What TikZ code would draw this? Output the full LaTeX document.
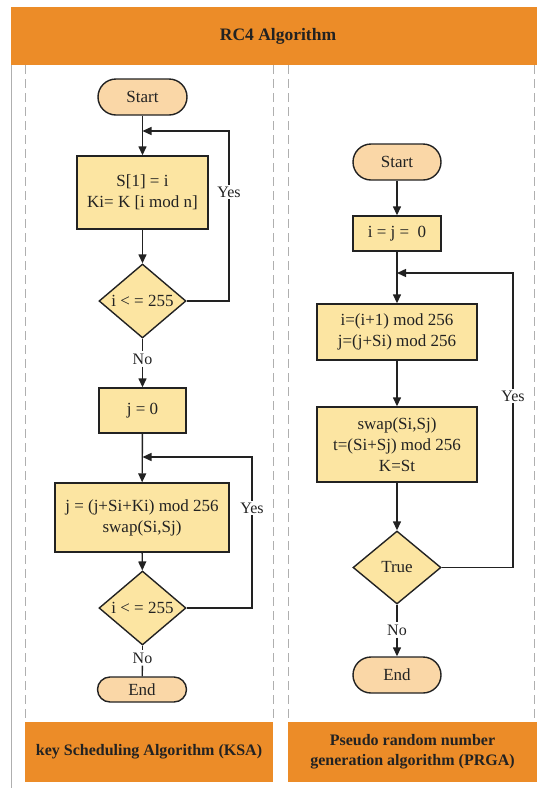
\documentclass[tikz,border=0pt]{standalone}
\usepackage{fontspec}
\setmainfont{Liberation Serif}
\usetikzlibrary{shapes.geometric,arrows.meta}
\definecolor{hdr}{RGB}{236,140,40}
\definecolor{boxf}{RGB}{252,229,162}
\definecolor{termf}{RGB}{250,215,167}
\definecolor{edge}{RGB}{34,34,34}
\definecolor{lanec}{RGB}{175,175,175}
\newcommand\myfont{\fontsize{17}{21}\selectfont}
\newcommand\mylab{\fontsize{16}{19}\selectfont}
\newcommand\mybold{\fontsize{16}{20}\selectfont\bfseries}
\begin{document}
\begin{tikzpicture}[x=1pt,y=-1pt,
  procbox/.style={draw=edge, fill=boxf, line width=1.4pt, inner sep=0pt, align=center, font=\myfont, text=edge},
  term/.style={draw=edge, fill=termf, line width=1.4pt, inner sep=0pt, align=center, font=\myfont, text=edge},
  decbox/.style={diamond, draw=edge, fill=boxf, line width=1.4pt, inner sep=0pt, aspect=1.18, minimum width=87pt, minimum height=74pt, font=\myfont, text=edge},
  lbl/.style={font=\mylab, text=edge, inner sep=2pt},
  ylbl/.style={font=\mylab, text=edge, fill=white, inner sep=2pt},
  conn/.style={line width=1.4pt, draw=edge},
  arr/.style={conn, -{Triangle[length=9pt,width=8pt]}},
  lanel/.style={draw=lanec, line width=1pt, dash pattern=on 9pt off 5pt},
  lanebox/.style={fill=hdr, inner sep=0pt, align=center, font=\mybold, text=edge}
]
\useasboundingbox (0,0) rectangle (537,788);
% frame
\fill[hdr] (11,7) rectangle (537,65);
\node[font=\fontsize{17.5}{21}\selectfont\bfseries, text=edge] (title) at (278,36) {RC4 Algorithm};
\draw[draw=lanec, line width=1pt] (11,65) -- (11,788);
\draw[lanel] (25,65) -- (25,722);
\draw[lanel] (273,65) -- (273,722);
\draw[lanel] (288,65) -- (288,722);
\draw[lanel] (534,65) -- (534,722);
\node[lanebox, minimum width=248pt, minimum height=60pt] (ksa) at (149,752) {key Scheduling Algorithm (KSA)};
\node[lanebox, minimum width=249pt, minimum height=60pt] (prga) at (412.5,752) {Pseudo random number\\generation algorithm (PRGA)};

% left flow
\node[term, minimum width=89pt, minimum height=36pt, rounded corners=18pt] (ls) at (142.5,97) {Start};
\node[procbox, minimum width=131pt, minimum height=73pt] (lb1) at (142.5,192.5) {S[1] = i\\Ki= K [i mod n]};
\node[decbox] (ld1) at (142.5,301) {i < = 255};
\node[lbl] (lno1) at (142.5,359) {No};
\node[procbox, minimum width=87pt, minimum height=45pt] (lb2) at (142.5,410.5) {j = 0};
\node[procbox, minimum width=174pt, minimum height=69pt] (lb3) at (142,517.5) {j = (j+Si+Ki) mod 256\\swap(Si,Sj)};
\node[decbox] (ld2) at (142.5,608) {i < = 255};
\node[lbl] (lno2) at (142.5,658) {No};
\node[term, minimum width=89pt, minimum height=25pt, rounded corners=12.5pt] (le) at (142,689.5) {End};
\coordinate (lj1) at (142.5,131);
\coordinate (lc1) at (229,131);
\coordinate (lj2) at (142.5,457);
\coordinate (lc2) at (252,457);

\draw[arr] (ls) -- (lb1);
\draw[arr] (lb1) -- (ld1);
\draw[arr] (ld1.east) -| (lc1) -- (lj1);
\node[ylbl] (ly1) at (229,192) {Yes};
\draw[conn] (ld1.south) -- (lno1);
\draw[arr] (lno1) -- (lb2);
\draw[arr] (lb2) -- (lb3);
\draw[arr] (lb3) -- (ld2);
\draw[arr] (ld2.east) -| (lc2) -- (lj2);
\node[ylbl] (ly2) at (252,508) {Yes};
\draw[conn] (ld2.south) -- (lno2);
\draw[conn] (lno2) -- (le);

% right flow
\node[term, minimum width=88pt, minimum height=36pt, rounded corners=18pt] (rs) at (397,162) {Start};
\node[procbox, minimum width=88pt, minimum height=35pt] (rb1) at (397,233.5) {i = j = \ 0};
\node[procbox, minimum width=160pt, minimum height=56pt] (rb2) at (397,332) {i=(i+1) mod 256\\j=(j+Si) mod 256};
\node[procbox, minimum width=160pt, minimum height=75pt] (rb3) at (397,444.5) {swap(Si,Sj)\\t=(Si+Sj) mod 256\\K=St};
\node[decbox, minimum width=88pt, minimum height=73pt] (rd) at (397,567.5) {True};
\node[lbl] (rno) at (397,630) {No};
\node[term, minimum width=88pt, minimum height=36pt, rounded corners=18pt] (re) at (397,675) {End};
\coordinate (rj) at (397,273);
\coordinate (rc) at (513,273);

\draw[arr] (rs) -- (rb1);
\draw[arr] (rb1) -- (rb2);
\draw[arr] (rb2) -- (rb3);
\draw[arr] (rb3) -- (rd);
\draw[arr] (rd.east) -| (rc) -- (rj);
\node[ylbl] (ry) at (513,396) {Yes};
\draw[conn] (rd.south) -- (rno);
\draw[arr] (rno) -- (re);
\end{tikzpicture}
\end{document}
